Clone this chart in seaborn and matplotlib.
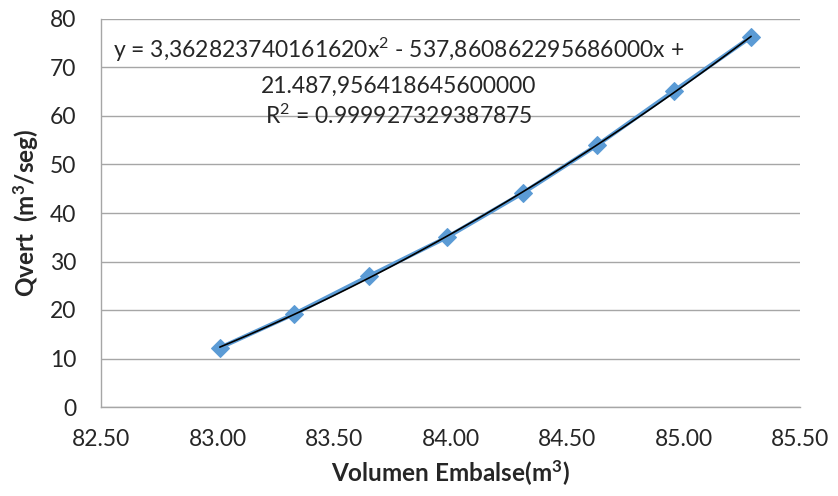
import numpy as np
import pandas as pd
import matplotlib
matplotlib.use("Agg")
import matplotlib.pyplot as plt
import seaborn as sns

volumen = [83.01, 83.33, 83.65, 83.985, 84.31, 84.63, 84.96, 85.29]
qvert = [12.2, 19.2, 27.0, 35.0, 44.1, 54.0, 65.2, 76.3]
x_ticks = [82.5, 83.0, 83.5, 84.0, 84.5, 85.0, 85.5]
y_ticks = [0, 10, 20, 30, 40, 50, 60, 70, 80]
eq_lines = ["y = 3,362823740161620x$^2$ - 537,860862295686000x +",
            "21.487,956418645600000",
            "R$^2$ = 0.999927329387875"]

df = pd.DataFrame({"Volumen": volumen, "Qvert": qvert})

sns.set_theme(style="white")
plt.rcParams['font.family'] = ['Lato', 'DejaVu Sans']
plt.rcParams['mathtext.default'] = 'regular'

fig = plt.figure(figsize=(8.38, 4.96), dpi=100)
ax = fig.add_axes([101/838, 1-407/496, 699/838, 388/496])

blue = "#5B9BD5"
sns.lineplot(data=df, x="Volumen", y="Qvert", ax=ax, color=blue, linewidth=3,
             marker="D", markersize=9, markeredgecolor=blue, zorder=3)

# quadratic trendline
coef = np.polyfit(df["Volumen"], df["Qvert"], 2)
xs = np.linspace(min(volumen), max(volumen), 100)
sns.lineplot(x=xs, y=np.polyval(coef, xs), ax=ax, color="black", linewidth=1.2, zorder=4)

ax.set_xlim(82.5, 85.5)
ax.set_ylim(0, 80)
ax.set_xticks(x_ticks)
ax.set_xticklabels([f"{v:.2f}" for v in x_ticks], fontsize=16.5)
ax.set_yticks(y_ticks)
ax.set_yticklabels([str(v) for v in y_ticks], fontsize=16.5)
ax.tick_params(axis='x', length=0, pad=16)
ax.tick_params(axis='y', length=0, pad=18)
ax.yaxis.grid(True, color="#A6A6A6", linewidth=1)
ax.set_axisbelow(True)
for s in ["top", "right"]:
    ax.spines[s].set_visible(False)
for s in ["left", "bottom"]:
    ax.spines[s].set_color("#A6A6A6")
    ax.spines[s].set_linewidth(1)

ax.set_xlabel("Volumen Embalse(m$^3$)", fontsize=17.5, fontweight="bold", labelpad=6)
ax.set_ylabel("Qvert  (m$^3$/seg)", fontsize=17.5, fontweight="bold", labelpad=6)

ys = [50, 86, 116]
for line, yp in zip(eq_lines, ys):
    fig.text(399/838, 1-yp/496, line, ha="center", va="center", fontsize=16.5)

fig.savefig("out.png", dpi=100)
